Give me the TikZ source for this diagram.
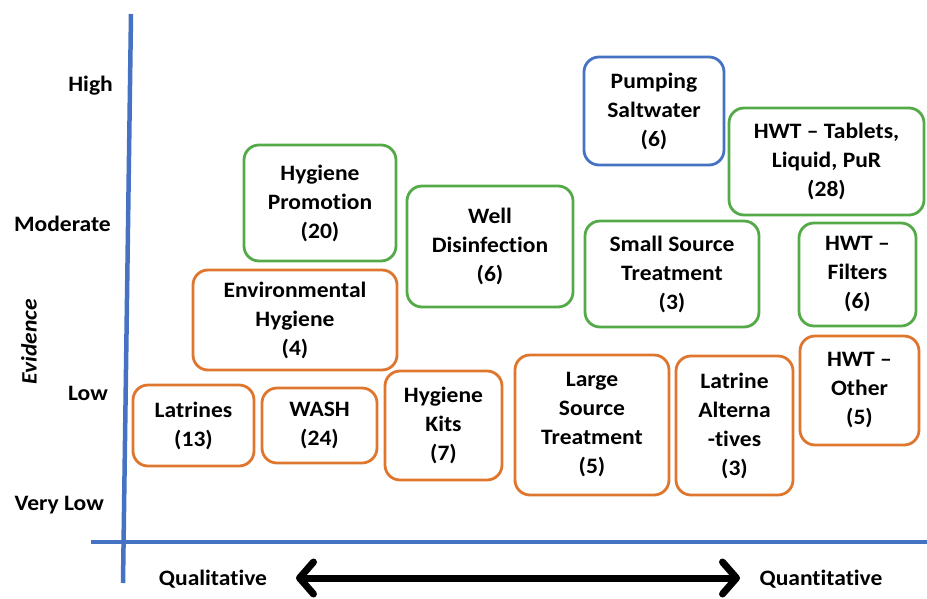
\documentclass[tikz,border=0pt]{standalone}
\usepackage{fontspec}
\setmainfont{Carlito}[FakeStretch=1.07, Ligatures={NoCommon}]
\usetikzlibrary{arrows.meta}
\definecolor{cblue}{RGB}{70,114,196}
\definecolor{cgreen}{RGB}{84,170,72}
\definecolor{corange}{RGB}{222,118,46}
\tikzset{
  box/.style={rounded corners=15pt, line width=2.8pt, align=center, inner sep=0pt,
    font=\fontsize{22}{29}\selectfont\bfseries, text=black},
  gbox/.style={box, draw=cgreen},
  obox/.style={box, draw=corange},
  bbox/.style={box, draw=cblue},
  axlab/.style={font=\fontsize{22}{29}\selectfont\bfseries, anchor=east, inner sep=0pt},
  axis/.style={draw=cblue, line width=4.5pt}
}
\begin{document}
\begin{tikzpicture}[x=1pt,y=-1pt]
\useasboundingbox (0,0) rectangle (927,598);
% axes
\coordinate (vt) at (131,14);
\coordinate (vb) at (123,583);
\coordinate (hl) at (91,542);
\coordinate (hr) at (927,542);
\draw[axis] (vt) -- (vb);
\draw[axis] (hl) -- (hr);
% axis labels
\node[axlab] (high) at (113,86) {High};
\node[axlab] (mod) at (111,224) {Moderate};
\node[axlab] (low) at (108,393) {Low};
\node[axlab] (vlow) at (104,505) {Very Low};
\node[font=\fontsize{22}{29}\selectfont\bfseries\itshape, rotate=90, inner sep=0pt] (evid) at (29,342) {Evidence};
% bottom
\node[font=\fontsize{22}{29}\selectfont\bfseries, inner sep=0pt] (qual) at (213,579) {Qualitative};
\node[font=\fontsize{22}{29}\selectfont\bfseries, inner sep=0pt] (quant) at (821,579) {Quantitative};
\coordinate (al) at (296,578);
\coordinate (ar) at (740,578);
\draw[line width=7pt, {Straight Barb[length=14pt,width=32pt,round]}-{Straight Barb[length=14pt,width=32pt,round]}] (al) -- (ar);
% boxes
\node[gbox, minimum width=152pt, minimum height=116pt] (hp) at (320,203) {Hygiene\\Promotion\\(20)};
\node[obox, minimum width=204pt, minimum height=100pt] (eh) at (295,320) {Environmental\\Hygiene\\(4)};
\node[obox, minimum width=121pt, minimum height=81pt] (lat) at (193.5,425.5) {Latrines\\(13)};
\node[obox, minimum width=115pt, minimum height=75pt] (wash) at (319.5,425.5) {WASH\\(24)};
\node[obox, minimum width=117pt, minimum height=109pt] (hk) at (443.5,425.5) {Hygiene\\Kits\\(7)};
\node[gbox, minimum width=166pt, minimum height=121pt] (wd) at (490,246.5) {Well\\Disinfection\\(6)};
\node[bbox, minimum width=140pt, minimum height=108pt] (ps) at (654,111) {Pumping\\Saltwater\\(6)};
\node[gbox, minimum width=195pt, minimum height=107pt] (hwtt) at (826.5,161.5) {HWT – Tablets,\\Liquid, PuR\\(28)};
\node[gbox, minimum width=174pt, minimum height=106pt] (sst) at (672,274) {Small Source\\Treatment\\(3)};
\node[gbox, minimum width=117pt, minimum height=103pt] (hwtf) at (857.5,274.5) {HWT –\\Filters\\(6)};
\node[obox, minimum width=154pt, minimum height=140pt] (lst) at (592,425) {Large\\Source\\Treatment\\(5)};
\node[obox, minimum width=117pt, minimum height=139pt] (la) at (734.5,425.5) {Latrine\\Alterna\\-tives\\(3)};
\node[obox, minimum width=119pt, minimum height=109pt] (hwto) at (859.5,390.5) {HWT –\\Other\\(5)};
\end{tikzpicture}
\end{document}
